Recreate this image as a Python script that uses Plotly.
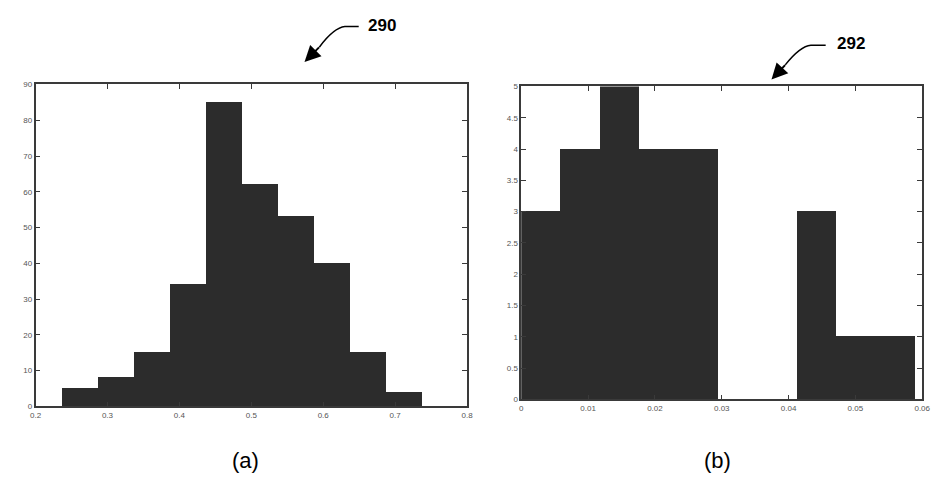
import plotly.graph_objects as go

W, H = 945, 483

# ---- data: panel (a) ----
a_first_edge = 0.2366
a_bin_width = 0.05
a_counts = [5, 8, 15, 34, 85, 62, 53, 40, 15, 4]
a_xticks = [0.2, 0.3, 0.4, 0.5, 0.6, 0.7, 0.8]
a_yticks = [0, 10, 20, 30, 40, 50, 60, 70, 80, 90]

# ---- data: panel (b) ----
b_first_edge = 0.0
b_bin_width = 0.0059
b_counts = [3, 4, 5, 4, 4, 0, 0, 3, 1, 1]
b_xticks = [0, 0.01, 0.02, 0.03, 0.04, 0.05, 0.06]
b_yticks = [0, 0.5, 1, 1.5, 2, 2.5, 3, 3.5, 4, 4.5, 5]

def centers(first, w, n):
    return [first + w * (i + 0.5) for i in range(n)]

bar_color = "#2c2c2c"

fig = go.Figure()
fig.add_trace(go.Bar(x=centers(a_first_edge, a_bin_width, len(a_counts)), y=a_counts,
                     width=a_bin_width, marker=dict(color=bar_color, line=dict(width=0)),
                     xaxis="x", yaxis="y", showlegend=False))
fig.add_trace(go.Bar(x=centers(b_first_edge, b_bin_width, len(b_counts)), y=b_counts,
                     width=b_bin_width, marker=dict(color=bar_color, line=dict(width=0)),
                     xaxis="x2", yaxis="y2", showlegend=False))

def px(x):
    return x / W

def py(y):
    return 1 - y / H

axis_common = dict(showgrid=False, zeroline=False, showline=True, mirror="ticks",
                   linecolor="#3a3a3a", linewidth=1.5, ticks="inside", ticklen=5,
                   tickcolor="#3a3a3a", tickfont=dict(family="Liberation Sans, Arial", size=8, color="#555"))

fig.update_layout(
    width=W, height=H,
    margin=dict(l=0, r=0, t=0, b=0),
    paper_bgcolor="white", plot_bgcolor="white",
    bargap=0,
    xaxis=dict(domain=[px(30), px(468)], range=[0.2, 0.8], tickvals=a_xticks,
               ticktext=[str(v) for v in a_xticks], anchor="y", **axis_common),
    yaxis=dict(domain=[py(410), py(82)], range=[0, 90], tickvals=a_yticks,
               ticktext=[str(v) for v in a_yticks], anchor="x", **axis_common),
    xaxis2=dict(domain=[px(523), px(930)], range=[0, 0.06], tickvals=b_xticks,
                ticktext=[str(v) for v in b_xticks], anchor="y2", **axis_common),
    yaxis2=dict(domain=[py(403), py(84)], range=[0, 5], tickvals=b_yticks,
                ticktext=[("%g" % v) for v in b_yticks], anchor="x2", **axis_common),
)

label_font = dict(family="Liberation Sans, Arial", size=17, color="black")
fig.add_annotation(x=px(382), y=py(22), xref="paper", yref="paper", text="<b>290</b>",
                   xanchor="center", yanchor="middle", showarrow=False, font=label_font)
fig.add_annotation(x=px(858), y=py(40), xref="paper", yref="paper", text="<b>292</b>",
                   xanchor="center", yanchor="middle", showarrow=False, font=label_font)

# curved leader lines
fig.add_shape(type="path", xref="paper", yref="paper",
              path=f"M {px(358)},{py(23)} L {px(344)},{py(23)} Q {px(333)},{py(24)} {px(318)},{py(44)}",
              line=dict(color="black", width=1.5))
fig.add_annotation(x=px(303), y=py(59), xref="paper", yref="paper", ax=16, ay=-16,
                   text="", showarrow=True,
                   arrowhead=2, arrowsize=1.6, arrowwidth=2, arrowcolor="black")
fig.add_shape(type="path", xref="paper", yref="paper",
              path=f"M {px(832)},{py(42)} L {px(817)},{py(42)} Q {px(806)},{py(43)} {px(791)},{py(62)}",
              line=dict(color="black", width=1.5))
fig.add_annotation(x=px(777), y=py(77), xref="paper", yref="paper", ax=15, ay=-16,
                   text="", showarrow=True,
                   arrowhead=2, arrowsize=1.6, arrowwidth=2, arrowcolor="black")

sub_font = dict(family="Liberation Sans, Arial", size=22, color="black")
fig.add_annotation(x=px(243), y=py(465), xref="paper", yref="paper", text="(a)",
                   xanchor="center", yanchor="middle", showarrow=False, font=sub_font)
fig.add_annotation(x=px(722), y=py(465), xref="paper", yref="paper", text="(b)",
                   xanchor="center", yanchor="middle", showarrow=False, font=sub_font)

fig.write_html("out.html")
